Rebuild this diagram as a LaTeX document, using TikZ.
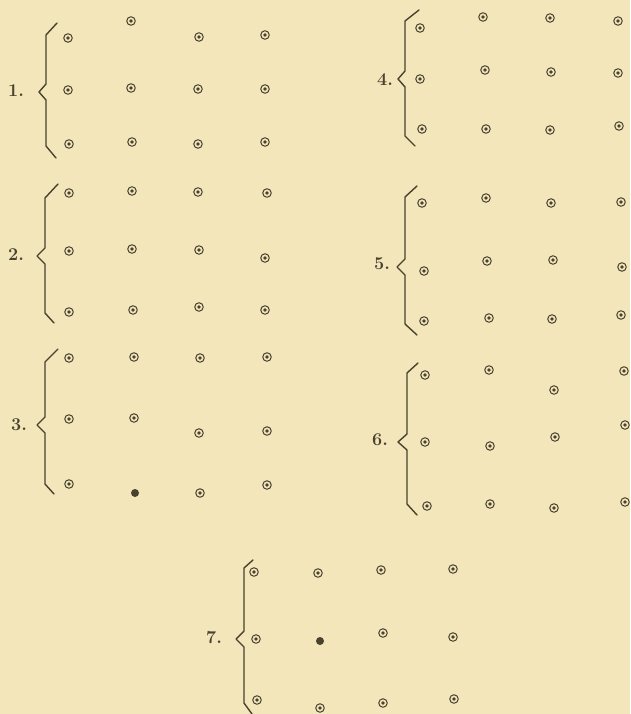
\documentclass[tikz,border=0pt]{standalone}
\definecolor{paper}{RGB}{242,230,186}
\definecolor{ink}{RGB}{72,66,46}
\tikzset{
  ring/.style={circle,draw=ink,line width=1pt,minimum size=8.5pt,inner sep=0pt,
    path picture={\fill[ink] (path picture bounding box.center) circle (1.8pt);}},
  blob/.style={circle,fill=ink,minimum size=8pt,inner sep=0pt},
  brace/.style={draw=ink,line width=1.4pt,line join=round,line cap=round},
  lbl/.style={text=ink,font=\fontsize{18}{20}\selectfont\bfseries,inner sep=0pt}
}
\begin{document}
\begin{tikzpicture}[x=1pt,y=-1pt]
\fill[paper] (0,0) rectangle (630,714);
\useasboundingbox (0,0) rectangle (630,714);
% braces
\draw[brace] (57,23) -- (46,35) -- (46,84) -- (39,92) -- (46,100) -- (46,146) -- (56,158);
\draw[brace] (58,184) -- (45,198) -- (45,248) -- (37,256) -- (45,264) -- (45,313) -- (54,323);
\draw[brace] (58,349) -- (45,362) -- (45,417) -- (37,425) -- (45,433) -- (45,484) -- (54,494);
\draw[brace] (419,10) -- (405,21) -- (405,71) -- (398,79) -- (405,87) -- (405,136) -- (415,146);
\draw[brace] (417,186) -- (405,197) -- (405,259) -- (397,267) -- (405,275) -- (405,324) -- (417,335);
\draw[brace] (418,363) -- (407,373) -- (407,434) -- (398,442) -- (407,450) -- (407,504) -- (417,515);
\draw[brace] (253,560) -- (244,568) -- (244,631) -- (236,639) -- (244,647) -- (244,703) -- (252,714);
% labels
\node[lbl] (l1) at (16,91) {1.};
\node[lbl] (l2) at (16,255) {2.};
\node[lbl] (l3) at (19,425) {3.};
\node[lbl] (l4) at (385,80) {4.};
\node[lbl] (l5) at (382,264) {5.};
\node[lbl] (l6) at (380,440) {6.};
\node[lbl] (l7) at (214,638) {7.};
% group 1
\node[ring] (a11) at (68,38) {};  \node[ring] (a12) at (131,21) {}; \node[ring] (a13) at (199,37) {}; \node[ring] (a14) at (265,35) {};
\node[ring] (a21) at (68,90) {};  \node[ring] (a22) at (131,88) {}; \node[ring] (a23) at (198,89) {}; \node[ring] (a24) at (265,89) {};
\node[ring] (a31) at (69,144) {}; \node[ring] (a32) at (132,142) {}; \node[ring] (a33) at (198,144) {}; \node[ring] (a34) at (265,142) {};
% group 2
\node[ring] (b11) at (69,193) {}; \node[ring] (b12) at (132,191) {}; \node[ring] (b13) at (198,192) {}; \node[ring] (b14) at (267,193) {};
\node[ring] (b21) at (69,251) {}; \node[ring] (b22) at (132,249) {}; \node[ring] (b23) at (199,250) {}; \node[ring] (b24) at (265,258) {};
\node[ring] (b31) at (69,312) {}; \node[ring] (b32) at (133,310) {}; \node[ring] (b33) at (199,307) {}; \node[ring] (b34) at (265,310) {};
% group 3
\node[ring] (c11) at (69,358) {}; \node[ring] (c12) at (134,357) {}; \node[ring] (c13) at (200,358) {}; \node[ring] (c14) at (267,357) {};
\node[ring] (c21) at (69,419) {}; \node[ring] (c22) at (134,418) {}; \node[ring] (c23) at (199,433) {}; \node[ring] (c24) at (267,431) {};
\node[ring] (c31) at (69,484) {}; \node[blob] (c32) at (135,493) {}; \node[ring] (c33) at (200,493) {}; \node[ring] (c34) at (267,485) {};
% group 4
\node[ring] (d11) at (420,28) {}; \node[ring] (d12) at (483,17) {}; \node[ring] (d13) at (550,18) {}; \node[ring] (d14) at (618,21) {};
\node[ring] (d21) at (420,79) {}; \node[ring] (d22) at (485,70) {}; \node[ring] (d23) at (551,72) {}; \node[ring] (d24) at (618,73) {};
\node[ring] (d31) at (422,129) {}; \node[ring] (d32) at (486,129) {}; \node[ring] (d33) at (550,130) {}; \node[ring] (d34) at (619,126) {};
% group 5
\node[ring] (e11) at (422,203) {}; \node[ring] (e12) at (486,198) {}; \node[ring] (e13) at (551,203) {}; \node[ring] (e14) at (621,202) {};
\node[ring] (e21) at (424,271) {}; \node[ring] (e22) at (487,261) {}; \node[ring] (e23) at (553,260) {}; \node[ring] (e24) at (622,267) {};
\node[ring] (e31) at (424,321) {}; \node[ring] (e32) at (489,318) {}; \node[ring] (e33) at (552,319) {}; \node[ring] (e34) at (621,315) {};
% group 6
\node[ring] (f11) at (425,375) {}; \node[ring] (f12) at (489,370) {}; \node[ring] (f13) at (554,390) {}; \node[ring] (f14) at (624,371) {};
\node[ring] (f21) at (425,442) {}; \node[ring] (f22) at (490,446) {}; \node[ring] (f23) at (555,437) {}; \node[ring] (f24) at (625,425) {};
\node[ring] (f31) at (427,506) {}; \node[ring] (f32) at (490,504) {}; \node[ring] (f33) at (554,508) {}; \node[ring] (f34) at (625,502) {};
% group 7
\node[ring] (g11) at (254,572) {}; \node[ring] (g12) at (318,573) {}; \node[ring] (g13) at (381,570) {}; \node[ring] (g14) at (453,569) {};
\node[ring] (g21) at (256,639) {}; \node[blob] (g22) at (320,641) {}; \node[ring] (g23) at (383,633) {}; \node[ring] (g24) at (453,637) {};
\node[ring] (g31) at (257,700) {}; \node[ring] (g32) at (320,708) {}; \node[ring] (g33) at (383,703) {}; \node[ring] (g34) at (454,699) {};
\end{tikzpicture}
\end{document}
